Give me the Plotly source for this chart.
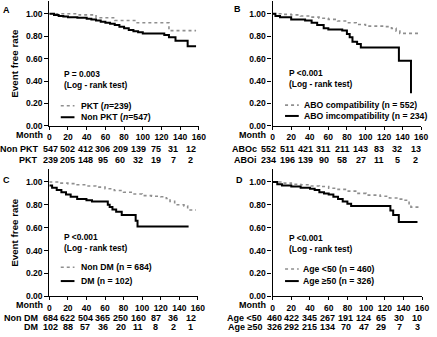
import plotly.graph_objects as go

# ---------------- data ----------------
months = [0, 20, 40, 60, 80, 100, 120, 140, 160]

# Panel A
a_pkt_t = [0, 32, 50, 70, 94, 128, 157]
a_pkt_s = [1.00, 0.99, 0.965, 0.94, 0.92, 0.85, 0.85]
a_non_t = [0, 5, 10, 15, 20, 30, 40, 45, 50, 55, 60, 65, 70, 75, 80, 85, 90, 95, 100, 123, 128, 135, 148, 157]
a_non_s = [1.00, 0.99, 0.98, 0.975, 0.97, 0.965, 0.955, 0.95, 0.94, 0.93, 0.92, 0.91, 0.90, 0.885, 0.87, 0.855, 0.845, 0.835, 0.825, 0.81, 0.79, 0.76, 0.71, 0.71]
a_risk_non = [547, 502, 412, 306, 209, 139, 75, 31, 12]
a_risk_pkt = [239, 205, 148, 95, 60, 32, 19, 7, 2]

# Panel B
b_c_t = [0, 10, 20, 30, 40, 50, 60, 70, 80, 90, 100, 120, 128, 133, 137, 157]
b_c_s = [1.00, 0.995, 0.99, 0.98, 0.97, 0.96, 0.95, 0.935, 0.92, 0.905, 0.89, 0.885, 0.87, 0.845, 0.825, 0.825]
b_i_t = [0, 3, 8, 20, 35, 42, 48, 55, 60, 75, 80, 83, 86, 91, 95, 136, 149, 149]
b_i_s = [1.00, 0.98, 0.97, 0.95, 0.94, 0.92, 0.90, 0.87, 0.86, 0.85, 0.82, 0.79, 0.75, 0.73, 0.70, 0.58, 0.29, 0.29]
b_risk_c = [552, 511, 421, 311, 211, 143, 83, 32, 13]
b_risk_i = [234, 196, 139, 90, 58, 27, 11, 5, 2]

# Panel C
c_n_t = [0, 10, 20, 30, 40, 50, 60, 70, 80, 90, 100, 110, 120, 126, 130, 135, 145, 149, 158]
c_n_s = [1.00, 0.99, 0.985, 0.975, 0.965, 0.955, 0.94, 0.925, 0.91, 0.895, 0.88, 0.875, 0.87, 0.855, 0.83, 0.80, 0.79, 0.755, 0.755]
c_d_t = [0, 3, 8, 13, 18, 23, 30, 40, 46, 63, 65, 68, 72, 78, 93, 95, 150]
c_d_s = [0.97, 0.95, 0.93, 0.91, 0.89, 0.87, 0.85, 0.84, 0.83, 0.80, 0.78, 0.76, 0.74, 0.71, 0.66, 0.61, 0.61]
c_risk_n = [684, 622, 504, 365, 250, 160, 87, 36, 12]
c_risk_d = [102, 88, 57, 36, 20, 11, 8, 2, 1]

# Panel D
d_y_t = [0, 10, 20, 30, 40, 50, 60, 70, 80, 90, 100, 115, 125, 135, 140, 146, 148, 157]
d_y_s = [1.00, 0.99, 0.98, 0.975, 0.965, 0.96, 0.945, 0.935, 0.92, 0.90, 0.885, 0.875, 0.86, 0.85, 0.84, 0.80, 0.78, 0.78]
d_o_t = [0, 5, 10, 20, 30, 40, 45, 50, 55, 60, 65, 70, 75, 80, 84, 126, 129, 135, 155]
d_o_s = [1.00, 0.98, 0.97, 0.96, 0.95, 0.94, 0.93, 0.91, 0.90, 0.89, 0.87, 0.85, 0.83, 0.81, 0.79, 0.75, 0.71, 0.65, 0.65]
d_risk_y = [460, 422, 345, 267, 191, 124, 65, 30, 10]
d_risk_o = [326, 292, 215, 134, 70, 47, 29, 7, 3]

yticks = [0, 0.2, 0.4, 0.6, 0.8, 1.0]

# ---------------- layout helpers ----------------
W, H = 437, 337
FONT = "Liberation Sans, Arial, sans-serif"
GREY = "#8f8f8f"


def fx(x):
    return x / W


def fy(y):
    return 1 - y / H


YTOP = 1.11
panels = [
    dict(letter="A", x0=48.3, x1=201.0, yb=127.7, unit=113.7, ytitle=True,
         grey=(a_pkt_t, a_pkt_s), black=(a_non_t, a_non_s),
         grey_lab="PKT (<i>n</i>=239)", black_lab="Non PKT (<i>n</i>=547)",
         p="P = 0.003", rows=("Non PKT", a_risk_non, "PKT", a_risk_pkt),
         lab_right=39.3, risk_a=1.0, risk_b=0.939, pty=80.6, px=61.0, leg_x=60, leg_y=107.3,
         leg_dy=11.7, txt_x=79, rowy=(151.0, 162.5), lx=4.5, ly=10),
    dict(letter="B", x0=276.3, x1=428.0, yb=127.7, unit=113.7, ytitle=False,
         grey=(b_c_t, b_c_s), black=(b_i_t, b_i_s),
         grey_lab="ABO compatibility (n = 552)", black_lab="ABO imcompatibility (n = 234)",
         p="P &lt;0.001", rows=("ABOc", b_risk_c, "ABOi", b_risk_i),
         lab_right=262.3, risk_a=-4.0, risk_b=0.987, pty=80.0, px=290.5, leg_x=289, leg_y=106.7,
         leg_dy=11.0, txt_x=306.3, rowy=(151.0, 162.5), lx=240.5, ly=9.5),
    dict(letter="C", x0=48.3, x1=200.0, yb=300.7, unit=116.0, ytitle=True,
         grey=(c_n_t, c_n_s), black=(c_d_t, c_d_s),
         grey_lab="Non DM (n = 684)", black_lab="DM (n = 102)",
         p="P &lt;0.001", rows=("Non DM", c_risk_n, "DM", c_risk_d),
         lab_right=39.3, risk_a=1.0, risk_b=0.946, pty=246.0, px=61.0, leg_x=60, leg_y=271.3,
         leg_dy=14.0, txt_x=79, rowy=(323.0, 332.3), lx=4.7, ly=183),
    dict(letter="D", x0=276.3, x1=429.0, yb=300.7, unit=116.0, ytitle=False,
         grey=(d_y_t, d_y_s), black=(d_o_t, d_o_s),
         grey_lab="Age &lt;50 (n = 460)", black_lab="Age ≥50 (n = 326)",
         p="P &lt;0.001", rows=("Age &lt;50", d_risk_y, "Age ≥50", d_risk_o),
         lab_right=267.3, risk_a=1.5, risk_b=0.958, pty=247.5, px=290.5, leg_x=289, leg_y=273.0,
         leg_dy=12.3, txt_x=305.3, rowy=(323.0, 332.3), lx=242, ly=183),
]

fig = go.Figure()
annotations = []
shapes = []
bold = dict(family=FONT, size=8.4, color="black", weight="bold")
bold_tick = dict(bold, size=8.5)
bold_leg = dict(bold, size=8.7)
bold_row = dict(bold, size=9)


def txt(text, x, y, xanchor="left", **kw):
    d = dict(text=text, x=fx(x), y=fy(y), xref="paper", yref="paper", showarrow=False,
             font=kw.pop("font", bold), xanchor=xanchor, yanchor="middle")
    d.update(kw)
    annotations.append(d)


for i, p in enumerate(panels):
    k = "" if i == 0 else str(i + 1)
    xa, ya = "x" + k, "y" + k
    top_px = p["yb"] - YTOP * p["unit"]
    scale = (p["x1"] - p["x0"]) / 160.0
    fig.add_trace(go.Scatter(x=p["grey"][0], y=p["grey"][1], mode="lines", line_shape="hv",
                             line=dict(color=GREY, width=1.6, dash="dot"),
                             xaxis=xa, yaxis=ya, showlegend=False))
    fig.add_trace(go.Scatter(x=p["black"][0], y=p["black"][1], mode="lines", line_shape="hv",
                             line=dict(color="black", width=2),
                             xaxis=xa, yaxis=ya, showlegend=False))
    fig.layout["xaxis" + k] = dict(
        domain=[fx(p["x0"]), fx(p["x1"])], range=[0, 160], anchor=ya,
        tickvals=months, ticks="outside", ticklen=3, tickwidth=1.3, tickcolor="black",
        showline=True, linecolor="black", linewidth=1.3, showgrid=False, zeroline=False,
        tickfont=bold_tick, fixedrange=True)
    fig.layout["yaxis" + k] = dict(
        domain=[fy(p["yb"]), fy(top_px)], range=[0, YTOP], anchor=xa,
        tickvals=yticks, tickformat=".2f", ticks="outside", ticklen=4, tickwidth=1.3,
        tickcolor="black", showline=True, linecolor="black", linewidth=1.3,
        showgrid=False, zeroline=False, tickfont=bold_tick, fixedrange=True)

    txt(p["letter"], p["lx"], p["ly"], xanchor="center", font=dict(bold, size=9))
    if p["ytitle"]:
        txt("Event free rate", 13.3, (p["yb"] + top_px) / 2, xanchor="center", textangle=-90,
            font=dict(bold, size=9.8))
    txt(p["p"] + "<br>(Log - rank test)", p["px"], p["pty"], align="left")
    for j, (lab, col, dash, w) in enumerate([(p["grey_lab"], GREY, "dot", 1.6),
                                             (p["black_lab"], "black", "solid", 2)]):
        yy = p["leg_y"] + j * p["leg_dy"]
        shapes.append(dict(type="line", xref="paper", yref="paper",
                           x0=fx(p["leg_x"]), x1=fx(p["leg_x"] + 14), y0=fy(yy), y1=fy(yy),
                           line=dict(color=col, width=w, dash=dash)))
        txt(lab, p["txt_x"], yy, font=bold_leg)
    txt("Month", p["x0"] - 4.5, p["yb"] + 9.4, xanchor="right", font=bold_row)
    lab1, r1, lab2, r2 = p["rows"]
    for lab, vals, yy in [(lab1, r1, p["rowy"][0]), (lab2, r2, p["rowy"][1])]:
        txt(lab, p["lab_right"], yy, xanchor="right", font=bold_row)
        for m, v in zip(months, vals):
            txt(str(v), p["x0"] + (p["risk_a"] + p["risk_b"] * m) * scale, yy,
                xanchor="center", font=bold_row)

fig.update_layout(width=W, height=H, margin=dict(l=0, r=0, t=0, b=0),
                  paper_bgcolor="white", plot_bgcolor="white",
                  font=dict(family=FONT, size=8, color="black"),
                  annotations=annotations, shapes=shapes, showlegend=False)
fig.write_html("out.html", config=dict(displayModeBar=False),
               post_script="document.body.style.margin='0';document.body.style.overflow='hidden';")
